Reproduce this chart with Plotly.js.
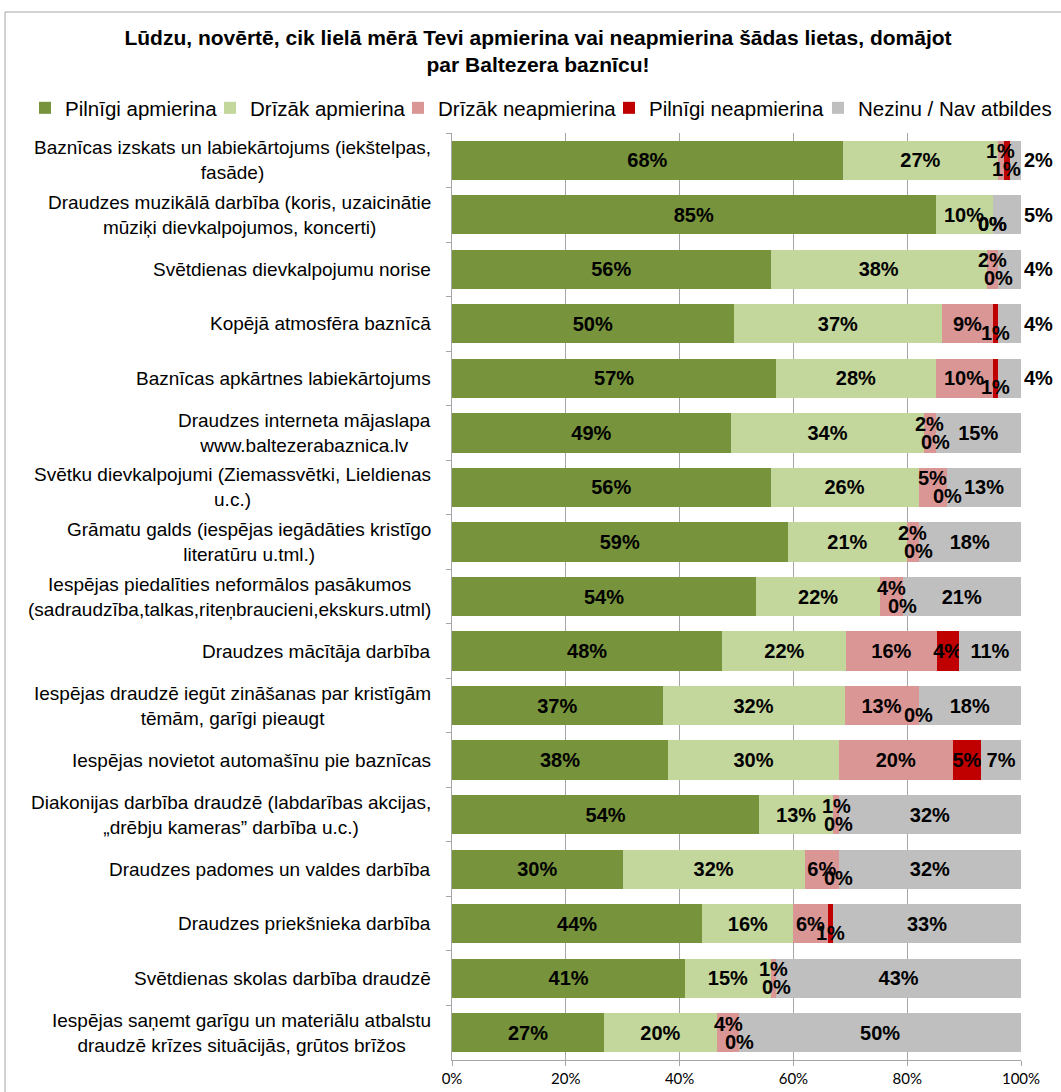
<!DOCTYPE html>
<html>
<head>
<meta charset="utf-8">
<script src="https://cdn.plot.ly/plotly-3.0.1.min.js"></script>
<style>html,body{margin:0;padding:0;background:#fff;}#chart{width:1061px;height:1092px;}</style>
</head>
<body>
<div id="chart"></div>
<script>
var categories = [
  "Baznīcas izskats un labiekārtojums (iekštelpas,<br>fasāde)",
  "Draudzes muzikālā darbība (koris, uzaicinātie<br>mūziķi dievkalpojumos, koncerti)",
  "Svētdienas dievkalpojumu norise",
  "Kopējā atmosfēra baznīcā",
  "Baznīcas apkārtnes labiekārtojums",
  "Draudzes interneta mājaslapa<br>www.baltezerabaznica.lv",
  "Svētku dievkalpojumi (Ziemassvētki, Lieldienas<br>u.c.)",
  "Grāmatu galds (iespējas iegādāties kristīgo<br>literatūru u.tml.)",
  "Iespējas piedalīties neformālos pasākumos<br>(sadraudzība,talkas,riteņbraucieni,ekskurs.utml)",
  "Draudzes mācītāja darbība",
  "Iespējas draudzē iegūt zināšanas par kristīgām<br>tēmām, garīgi pieaugt",
  "Iespējas novietot automašīnu pie baznīcas",
  "Diakonijas darbība draudzē (labdarības akcijas,<br>„drēbju kameras” darbība u.c.)",
  "Draudzes padomes un valdes darbība",
  "Draudzes priekšnieka darbība",
  "Svētdienas skolas darbība draudzē",
  "Iespējas saņemt garīgu un materiālu atbalstu<br>draudzē krīzes situācijās, grūtos brīžos"
];

var seriesNames = ["Pilnīgi apmierina", "Drīzāk apmierina", "Drīzāk neapmierina", "Pilnīgi neapmierina", "Nezinu / Nav atbildes"];

var pilnigiApmierina   = [68, 85, 56, 50, 57, 49, 56, 59, 54, 48, 37, 38, 54, 30, 44, 41, 27];
var drizakApmierina    = [27, 10, 38, 37, 28, 34, 26, 21, 22, 22, 32, 30, 13, 32, 16, 15, 20];
var drizakNeapmierina  = [1, 0, 2, 9, 10, 2, 5, 2, 4, 16, 13, 20, 1, 6, 6, 1, 4];
var pilnigiNeapmierina = [1, 0, 0, 1, 1, 0, 0, 0, 0, 4, 0, 5, 0, 0, 1, 0, 0];
var nezinu             = [2, 5, 4, 4, 4, 15, 13, 18, 21, 11, 18, 7, 32, 32, 33, 43, 50];

var xTickVals = [0, 20, 40, 60, 80, 100];
var xTickText = ["0%", "20%", "40%", "60%", "80%", "100%"];

var colors = ["#77933C", "#C3D69B", "#D99694", "#C00000", "#BFBFBF"];
var allSeries = [pilnigiApmierina, drizakApmierina, drizakNeapmierina, pilnigiNeapmierina, nezinu];

var FONT = "Liberation Sans, Arial, sans-serif";
var labelFont = {family: FONT, size: 20, color: "#000", weight: "bold"};

// which segments are too narrow for an inside label (handled by annotations)
function isNarrow(s, v) {
  if (s === 2) return v < 5.5;
  if (s === 3) return v < 3.5;
  return false;
}

var rowSums = categories.map(function (c, i) {
  return allSeries.reduce(function (a, s) { return a + s[i]; }, 0);
});

var legendIds = ["legend", "legend2", "legend3", "legend4", "legend5"];

var traces = allSeries.map(function (vals, s) {
  var text = vals.map(function (v) { return isNarrow(s, v) ? "" : v + "%"; });
  var pos = vals.map(function (v) { return (s === 4 && v < 6) ? "outside" : "inside"; });
  return {
    type: "bar",
    orientation: "h",
    name: seriesNames[s],
    legend: legendIds[s],
    y: categories,
    x: vals,
    text: text,
    textposition: pos,
    insidetextanchor: "middle",
    constraintext: "none",
    textangle: 0,
    cliponaxis: false,
    textfont: labelFont,
    insidetextfont: labelFont,
    outsidetextfont: labelFont,
    marker: {color: colors[s], line: {width: 0}},
    hoverinfo: "skip"
  };
});

var annotations = [];
// category labels (centered multi-line, right-anchored block)
categories.forEach(function (c) {
  annotations.push({
    xref: "paper", yref: "y", x: 0, y: c, xanchor: "right", yanchor: "middle",
    xshift: -19, align: "center", showarrow: false, text: c,
    font: {family: FONT, size: 19, color: "#000"}
  });
});
// labels of narrow segments
categories.forEach(function (c, i) {
  var cum = 0;
  allSeries.forEach(function (vals, s) {
    var v = vals[i];
    if (isNarrow(s, v)) {
      var mid = (cum + v / 2) / rowSums[i] * 100;
      var shift = (s === 2 && v > 0) ? 9 : -9;
      annotations.push({
        xref: "x", yref: "y", x: mid, y: c, xanchor: "center", yanchor: "middle",
        yshift: shift, showarrow: false, text: v + "%", font: labelFont
      });
    }
    cum += v;
  });
});

var L = 452, R = 40, T = 133, B = 32, W = 1061, H = 1092;
var pw = W - L - R, ph = H - T - B;

var layout = {
  width: W, height: H,
  margin: {l: L, r: R, t: T, b: B, pad: 0},
  paper_bgcolor: "#fff", plot_bgcolor: "#fff",
  barmode: "stack", barnorm: "percent", bargap: 0.28,
  font: {family: FONT, size: 19, color: "#000"},
  title: {
    text: "<b>Lūdzu, novērtē, cik lielā mērā Tevi apmierina vai neapmierina šādas lietas, domājot<br>par Baltezera baznīcu!</b>",
    font: {family: FONT, size: 21, color: "#000"},
    xref: "container", x: 538 / W, xanchor: "center",
    yref: "container", y: 1 - 45 / H, yanchor: "top"
  },
  showlegend: true,
  xaxis: {
    range: [0, 100], tickvals: xTickVals, ticktext: xTickText,
    showgrid: true, gridcolor: "#A6A6A6", gridwidth: 1,
    zeroline: false, showline: true, linecolor: "#A6A6A6", linewidth: 1,
    ticks: "outside", ticklen: 5, tickcolor: "#A6A6A6",
    tickfont: {family: "Lato, Carlito, sans-serif", size: 15, color: "#000"},
    fixedrange: true
  },
  yaxis: {
    type: "category", autorange: "reversed",
    showticklabels: false, showgrid: false, zeroline: false,
    showline: true, linecolor: "#A6A6A6", linewidth: 1,
    ticks: "outside", tickson: "boundaries", ticklen: 5, tickcolor: "#A6A6A6",
    fixedrange: true
  },
  annotations: annotations,
  shapes: [{
    type: "rect", xref: "paper", yref: "paper", layer: "below",
    x0: (5 - L) / pw, x1: (W + 10 - L) / pw,
    y0: -(B + 10) / ph, y1: 1 + (T - 12) / ph,
    line: {color: "#A6A6A6", width: 1}, fillcolor: "rgba(0,0,0,0)"
  }]
};

// one legend box per series, laid out in a single row like the reference
var legendTextStart = [62, 247, 435, 646, 855];
legendIds.forEach(function (id, s) {
  layout[id] = {
    orientation: "h", xref: "container", yref: "container",
    x: (legendTextStart[s] - 37) / W, xanchor: "left",
    y: 1 - 88 / H, yanchor: "top",
    font: {family: FONT, size: 20.5, color: "#000"},
    itemclick: false, itemdoubleclick: false,
    bgcolor: "rgba(0,0,0,0)", borderwidth: 0
  };
});

Plotly.newPlot("chart", traces, layout, {staticPlot: true, displayModeBar: false});
</script>
</body>
</html>
